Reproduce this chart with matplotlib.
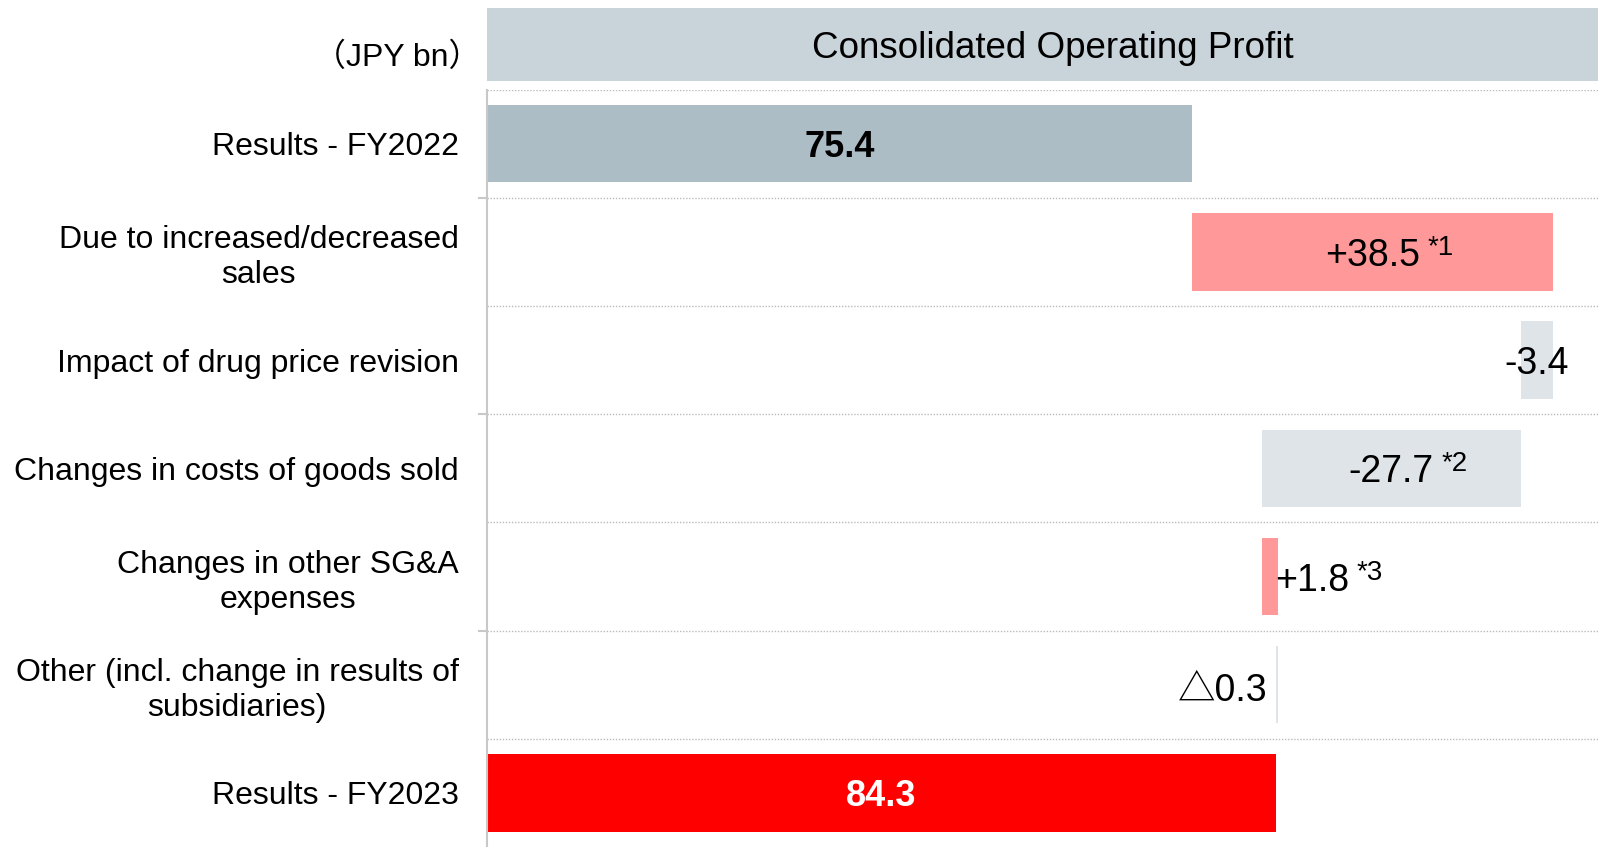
import matplotlib
matplotlib.use("Agg")
import matplotlib.pyplot as plt
from matplotlib.patches import Rectangle
from matplotlib.transforms import blended_transform_factory
import numpy as np

FONT = ["Liberation Sans", "Noto Sans CJK JP", "DejaVu Sans"]
plt.rcParams["font.family"] = FONT

categories = ["Results - FY2022",
              "Due to increased/decreased\nsales",
              "Impact of drug price revision",
              "Changes in costs of goods sold",
              "Changes in other SG&A\nexpenses",
              "Other (incl. change in results of\nsubsidiaries)",
              "Results - FY2023"]
values = [75.4, 38.5, -3.4, -27.7, 1.8, -0.3, 84.3]
value_labels = ["75.4", "+38.5", "-3.4", "-27.7", "+1.8", "\u25b30.3", "84.3"]
notes = ["", "*1", "", "*2", "*3", "", ""]
kinds = ["total", "delta", "delta", "delta", "delta", "delta", "total"]
title = "Consolidated Operating Profit"
unit = "\uff08JPY bn\uff09"

W, H = 1598, 847
fig = plt.figure(figsize=(W / 100, H / 100), dpi=100)
fig.patch.set_facecolor("white")

ax_left, ax_right, ax_top = 487, 1598, 89.7
ax = fig.add_axes([ax_left / W, 0, (ax_right - ax_left) / W, 1 - ax_top / H])

col_total0 = "#ADBDC6"
col_final = "#FF0000"
col_pos = "#FF9999"
col_neg = "#DFE4E8"

n = len(values)
y = np.arange(n)
starts, widths, colors = [], [], []
running = 0.0
for i, (v, k) in enumerate(zip(values, kinds)):
    if k == "total":
        starts.append(0.0)
        widths.append(v)
        colors.append(col_total0 if i == 0 else col_final)
        running = v
    else:
        if v >= 0:
            starts.append(running)
            widths.append(v)
            colors.append(col_pos)
        else:
            starts.append(running + v)
            widths.append(-v)
            colors.append(col_neg)
        running += v

bar_h = 0.715
ax.barh(y, widths, left=starts, height=bar_h, color=colors, edgecolor="none", zorder=2)

ax.set_xlim(0, 118.75)
ax.set_ylim(n - 0.5, -0.5)
ax.set_xticks([])
ax.set_yticks(y)
ax.set_yticklabels(categories, fontsize=23)
for lbl in ax.get_yticklabels():
    lbl.set_multialignment("center")
    lbl.set_linespacing(1.2)
ax.tick_params(axis="y", length=0, pad=20.5)

for s in ["top", "right", "bottom"]:
    ax.spines[s].set_visible(False)
ax.spines["left"].set_color("#C8C8C8")
ax.spines["left"].set_linewidth(1.5)

# dotted row separators
for b in np.arange(-0.5, n - 0.5, 1.0):
    ax.axhline(b, color="#BBBBBB", linestyle=(0, (1, 1.2)), linewidth=1.0, zorder=1)
# small ticks on some separators
bt = blended_transform_factory(ax.transAxes, ax.transData)
for b in [0.5, 2.5, 4.5]:
    ax.plot([-8 / (ax_right - ax_left), 0], [b, b], color="#C8C8C8", lw=1.5,
            transform=bt, clip_on=False)

# value labels
VA = "center_baseline"
for i in range(n):
    s, w = starts[i], widths[i]
    if kinds[i] == "total":
        ax.text(s + w / 2, y[i], value_labels[i], ha="center", va=VA,
                fontsize=26, fontweight="bold",
                color="black" if i == 0 else "white", zorder=3)
        continue
    if values[i] == 1.8:
        t = ax.annotate(value_labels[i], xy=(s + w, y[i]), xytext=(-2.5, -0.5),
                        textcoords="offset points", ha="left", va=VA,
                        fontsize=27, zorder=3)
    elif values[i] == -0.3:
        t = ax.annotate(value_labels[i], xy=(s, y[i]), xytext=(-6, -2),
                        textcoords="offset points", ha="right", va=VA,
                        fontsize=27, zorder=3)
    else:
        t = ax.text(s + w / 2, y[i], value_labels[i], ha="center", va=VA,
                    fontsize=27, zorder=3)
    if notes[i]:
        ax.annotate(notes[i], xy=(1, 1), xycoords=t, xytext=(5.5, 2.5),
                    textcoords="offset points", ha="left", va="top",
                    fontsize=20, zorder=3)

# header band
hx0, hy0, hy1 = 487, 8.2, 81.5
fig.add_artist(Rectangle((hx0 / W, 1 - hy1 / H), (W - hx0) / W, (hy1 - hy0) / H,
                         transform=fig.transFigure, facecolor="#C9D3DA",
                         edgecolor="none"))
fig.text(1053 / W, 1 - 45 / H, title, ha="center", va="center_baseline", fontsize=26.5)
fig.text(481 / W, 1 - 54 / H, unit, ha="right", va="center_baseline", fontsize=23)

fig.savefig("out.png", dpi=100, facecolor="white")
